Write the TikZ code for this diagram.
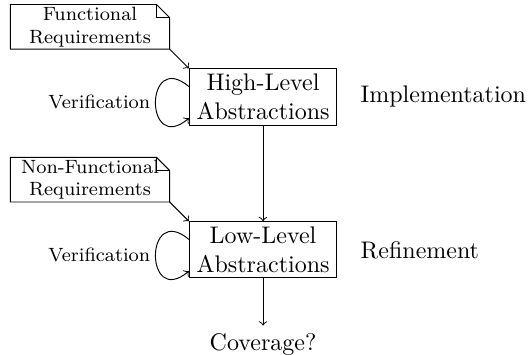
\documentclass[tikz,border=0pt]{standalone}
\usepackage{tikz}
\usetikzlibrary{positioning, calc}
\tikzstyle{abstr} = [rectangle, draw, align=center, inner xsep=3pt, inner ysep=2.2pt]
\tikzstyle{req} = [rectangle, align=center, font=\footnotesize, minimum width=66pt, inner ysep=0.8pt]
\tikzstyle{phase} = [rectangle, inner sep=3.33pt]
\tikzstyle{arrow} = [->]
\tikzstyle{verif} = [left, font=\footnotesize, inner sep=2pt]

\begin{document}
\begin{tikzpicture}[node distance=0.28cm]
\useasboundingbox (-109.6pt,40.4pt) rectangle (110.8pt,-107.1pt);

% Abstraction levels
\node[abstr] (hl) {High-Level\\Abstractions};
\node[abstr, below=1.4cm of hl] (ll) {Low-Level\\Abstractions};
\node[below=0.69cm of ll] (cov) {Coverage?};

% Phases
\node[phase, right=0.22cm of hl] (impl) {Implementation};
\node[phase, right=0.22cm of ll] (refn) {Refinement};

% Requirements
\node[req, above left=8pt and 8pt of hl] (fr) {Functional\\Requirements};
\node[req, above left=8pt and 8pt of ll] (nfr) {Non-Functional\\Requirements};
\foreach \req in {fr, nfr} {
  \draw (\req.north west) -- ([xshift=-5.5pt]\req.north east) -- ([yshift=-5.5pt]\req.north east) -- (\req.south east) -- (\req.south west) -- cycle;
  \draw ([xshift=-5.5pt]\req.north east) |- ([yshift=-5.5pt]\req.north east);
}

% Arrows
\draw[arrow] (fr.south east) -- (hl.north west);
\draw[arrow] (nfr.south east) -- (ll.north west);
\draw[arrow] (hl) -- (ll);
\draw[arrow] (ll) -- (cov);

% Verification loops
\draw[arrow] (hl.172) .. controls +(140:0.85cm) and +(220:0.85cm) .. node[verif] (v1) {Verification} (hl.196);
\draw[arrow] (ll.172) .. controls +(140:0.85cm) and +(220:0.85cm) .. node[verif] (v2) {Verification} (ll.196);

\end{tikzpicture}
\end{document}
